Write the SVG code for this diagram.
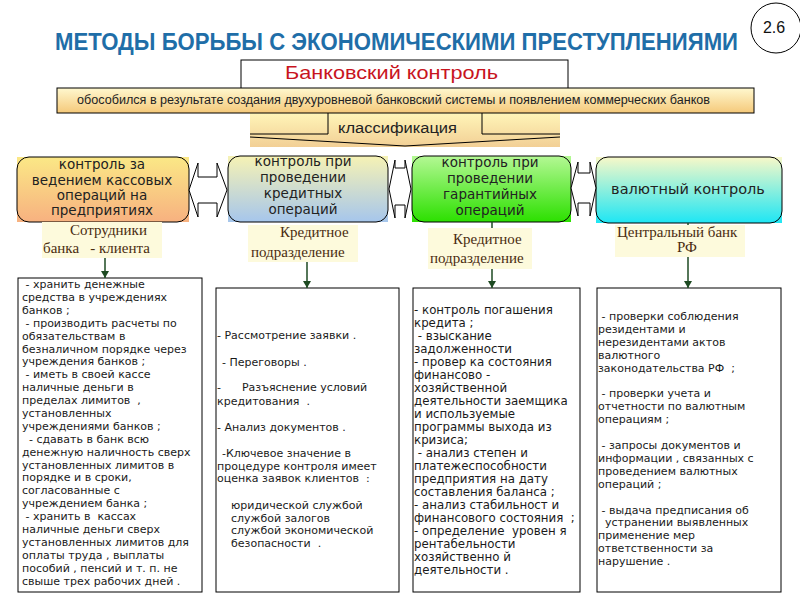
<svg xmlns="http://www.w3.org/2000/svg" width="800" height="600" viewBox="0 0 800 600">
<defs>
<linearGradient id="gBand" x1="0" y1="0" x2="0" y2="1"><stop offset="0" stop-color="#fff8cf"/><stop offset="1" stop-color="#f5c97a"/></linearGradient>
<linearGradient id="gCls" x1="0" y1="0" x2="0" y2="1"><stop offset="0" stop-color="#fff5b8"/><stop offset="1" stop-color="#f2cf95"/></linearGradient>
<linearGradient id="g1" x1="0" y1="0" x2="0" y2="1"><stop offset="0" stop-color="#fbe886"/><stop offset="1" stop-color="#f7b180"/></linearGradient>
<linearGradient id="g2" x1="0" y1="0" x2="0" y2="1"><stop offset="0" stop-color="#f6f2b4"/><stop offset="1" stop-color="#a6c6ec"/></linearGradient>
<linearGradient id="g3" x1="0" y1="0" x2="0" y2="1"><stop offset="0" stop-color="#b4f894"/><stop offset="1" stop-color="#2ce000"/></linearGradient>
<linearGradient id="g4" x1="0" y1="0" x2="0" y2="1"><stop offset="0" stop-color="#f8f8c8"/><stop offset="1" stop-color="#1ee6f4"/></linearGradient>
<marker id="ah" markerWidth="7" markerHeight="8" refX="7" refY="4" orient="auto" markerUnits="userSpaceOnUse"><path d="M0,0 L7,4 L0,8 z" fill="#1e4a22"/></marker>
<style>
.title{font-family:"Liberation Sans",Arial,sans-serif;font-weight:bold;font-size:23px;fill:#1f6ea8}
.cat{font-family:"DejaVu Sans",Verdana,sans-serif;font-size:13.5px;fill:#222;text-anchor:middle}
.lbl{font-family:"Liberation Serif","Times New Roman",serif;font-size:15px;fill:#4a2c10}
.body{font-family:"DejaVu Sans",Verdana,sans-serif;font-size:11px;fill:#1a1a1a;white-space:pre}
.ln{fill:none;stroke:#000;stroke-width:1}
.box{fill:#fff;stroke:#000;stroke-width:1}
.dbl{fill:#fff;stroke:#000;stroke-width:1}
.lbg{fill:#fdfadc}
.conn{stroke:#1e4a22;stroke-width:1.5;fill:none}
</style>
</defs>
<rect width="800" height="600" fill="#fff"/>

<g id="title">
<text class="title" x="55" y="50" textLength="683" lengthAdjust="spacingAndGlyphs">МЕТОДЫ БОРЬБЫ С ЭКОНОМИЧЕСКИМИ ПРЕСТУПЛЕНИЯМИ</text>
</g>
<g id="badge">
<circle cx="776" cy="28" r="25" fill="#fff" stroke="#000" stroke-width="1"/>
<text x="774" y="33" font-family="Liberation Sans, Arial, sans-serif" font-size="16" text-anchor="middle" fill="#111">2.6</text>
</g>

<g id="bank-control">
<rect x="241" y="60" width="327" height="30" class="box"/>
<text x="285" y="79" font-family="Liberation Sans, Arial, sans-serif" font-size="19" fill="#c8141e" textLength="213" lengthAdjust="spacingAndGlyphs">Банковский контроль</text>
</g>

<g id="classification">
<rect x="250" y="113" width="310" height="34" fill="url(#gCls)"/>
<polyline class="ln" points="250,134 328,134 328,113"/>
<polyline class="ln" points="482,113 482,134 560,134"/>
<polyline class="ln" points="250,137 405,146 560,137"/>
<text x="338" y="133" font-family="Liberation Sans, Arial, sans-serif" font-size="15.5" fill="#222" textLength="119" lengthAdjust="spacingAndGlyphs">классификация</text>
</g>

<g id="origin">
<rect x="57" y="88" width="697" height="25" fill="url(#gBand)" stroke="#000" stroke-width="1"/>
<text x="77" y="104" font-family="Liberation Sans, Arial, sans-serif" font-size="12.5" fill="#222" textLength="633" lengthAdjust="spacingAndGlyphs">обособился в результате создания двухуровневой банковский системы и появлением коммерческих банков</text>
</g>

<g id="cat1">
<rect x="17" y="157" width="172" height="65" fill="url(#g1)"/>
<rect x="17" y="157" width="172" height="65" rx="12" fill="none" stroke="#000" stroke-width="1"/>
<text class="cat"><tspan x="102" y="169">контроль за</tspan><tspan x="102" y="185">ведением кассовых</tspan><tspan x="102" y="200">операций на</tspan><tspan x="102" y="215">предприятиях</tspan></text>
</g>
<g id="cat2">
<rect x="228" y="156" width="160" height="66" fill="url(#g2)"/>
<rect x="228" y="156" width="160" height="66" rx="12" fill="none" stroke="#000" stroke-width="1"/>
<text class="cat"><tspan x="303" y="166">контроль при</tspan><tspan x="303" y="182">проведении</tspan><tspan x="303" y="198">кредитных</tspan><tspan x="303" y="214">операций</tspan></text>
</g>
<g id="cat3">
<rect x="412" y="156" width="159" height="66" fill="url(#g3)"/>
<rect x="412" y="156" width="159" height="66" rx="12" fill="none" stroke="#000" stroke-width="1"/>
<text class="cat"><tspan x="490" y="167">контроль при</tspan><tspan x="490" y="183">проведении</tspan><tspan x="490" y="199">гарантийных</tspan><tspan x="490" y="215">операций</tspan></text>
</g>
<g id="cat4">
<rect x="596" y="157" width="186" height="66" fill="url(#g4)"/>
<rect x="596" y="157" width="186" height="66" rx="12" fill="none" stroke="#000" stroke-width="1"/>
<text class="cat" x="688" y="194" style="font-size:14.5px">валютный контроль</text>
</g>

<g id="label1">
<rect x="42" y="222" width="120" height="36" class="lbg"/>
<text class="lbl" style="white-space:pre"><tspan x="70" y="235">Сотрудники</tspan><tspan x="43" y="253">банка   - клиента</tspan></text>
</g>
<g id="label2">
<rect x="248" y="225" width="110" height="37" class="lbg"/>
<text class="lbl"><tspan x="280" y="237">Кредитное</tspan><tspan x="251" y="257">подразделение</tspan></text>
</g>
<g id="label3">
<rect x="428" y="228" width="104" height="41" class="lbg"/>
<text class="lbl"><tspan x="453" y="244">Кредитное</tspan><tspan x="430" y="263">подразделение</tspan></text>
</g>
<g id="label4">
<rect x="615" y="225" width="130" height="32" class="lbg"/>
<text class="lbl"><tspan x="617" y="237">Центральный банк</tspan><tspan x="677" y="252">РФ</tspan></text>
</g>

<g id="list1">
<rect x="18" y="278" width="184" height="314" class="box"/>
<text class="body"><tspan x="22" y="288"> - хранить денежные</tspan><tspan x="22" dy="12.9">средства в учреждениях</tspan><tspan x="22" dy="12.9">банков ;</tspan><tspan x="22" dy="12.9"> - производить расчеты по</tspan><tspan x="22" dy="12.9">обязательствам в</tspan><tspan x="22" dy="12.9">безналичном порядке через</tspan><tspan x="22" dy="12.9">учреждения банков ;</tspan><tspan x="22" dy="12.9"> - иметь в своей кассе</tspan><tspan x="22" dy="12.9">наличные деньги в</tspan><tspan x="22" dy="12.9">пределах лимитов  ,</tspan><tspan x="22" dy="12.9">установленных</tspan><tspan x="22" dy="12.9">учреждениями банков ;</tspan><tspan x="22" dy="12.9">  - сдавать в банк всю</tspan><tspan x="22" dy="12.9">денежную наличность сверх</tspan><tspan x="22" dy="12.9">установленных лимитов в</tspan><tspan x="22" dy="12.9">порядке и в сроки,</tspan><tspan x="22" dy="12.9">согласованные с</tspan><tspan x="22" dy="12.9">учреждением банка ;</tspan><tspan x="22" dy="12.9"> - хранить в  кассах</tspan><tspan x="22" dy="12.9">наличные деньги сверх</tspan><tspan x="22" dy="12.9">установленных лимитов для</tspan><tspan x="22" dy="12.9">оплаты труда , выплаты</tspan><tspan x="22" dy="12.9">пособий , пенсий и т. п. не</tspan><tspan x="22" dy="12.9">свыше трех рабочих дней .</tspan></text>
</g>

<g id="list2">
<rect x="216" y="288" width="183" height="304" class="box"/>
<text class="body"><tspan x="217" y="339">- Рассмотрение заявки .</tspan><tspan x="222" y="366">- Переговоры .</tspan><tspan x="217" y="391">-      Разъяснение условий</tspan><tspan x="217" y="405">кредитования  .</tspan><tspan x="217" y="431">- Анализ документов .</tspan><tspan x="222" y="457">-Ключевое значение в</tspan><tspan x="217" y="470">процедуре контроля имеет</tspan><tspan x="217" y="482">оценка заявок клиентов  :</tspan><tspan x="231" y="509">юридической службой</tspan><tspan x="231" y="522">службой залогов</tspan><tspan x="231" y="534">службой экономической</tspan><tspan x="231" y="547">безопасности  .</tspan></text>
</g>

<g id="list3">
<rect x="413" y="288" width="167" height="304" class="box"/>
<text class="body" style="font-size:11.8px"><tspan x="414" y="314">- контроль погашения</tspan><tspan x="414" dy="13">кредита ;</tspan><tspan x="414" dy="13"> - взыскание</tspan><tspan x="414" dy="13">задолженности</tspan><tspan x="414" dy="13">- провер ка состояния</tspan><tspan x="414" dy="13">финансово -</tspan><tspan x="414" dy="13">хозяйственной</tspan><tspan x="414" dy="13">деятельности заемщика</tspan><tspan x="414" dy="13">и используемые</tspan><tspan x="414" dy="13">программы выхода из</tspan><tspan x="414" dy="13">кризиса;</tspan><tspan x="414" dy="13"> - анализ степен и</tspan><tspan x="414" dy="13">платежеспособности</tspan><tspan x="414" dy="13">предприятия на дату</tspan><tspan x="414" dy="13">составления баланса ;</tspan><tspan x="414" dy="13">- анализ стабильност и</tspan><tspan x="414" dy="13">финансового состояния  ;</tspan><tspan x="414" dy="13">- определение  уровен я</tspan><tspan x="414" dy="13">рентабельности</tspan><tspan x="414" dy="13">хозяйственно й</tspan><tspan x="414" dy="13">деятельности .</tspan></text>
</g>

<g id="list4">
<rect x="597" y="288" width="184" height="304" class="box"/>
<text class="body"><tspan x="598" y="320"> - проверки соблюдения</tspan><tspan x="598" dy="12.9">резидентами и</tspan><tspan x="598" dy="12.9">нерезидентами актов</tspan><tspan x="598" dy="12.9">валютного</tspan><tspan x="598" dy="12.9">законодательства РФ  ;</tspan><tspan x="598" dy="25.8"> - проверки учета и</tspan><tspan x="598" dy="12.9">отчетности по валютным</tspan><tspan x="598" dy="12.9">операциям ;</tspan><tspan x="598" dy="25.8"> - запросы документов и</tspan><tspan x="598" dy="12.9">информации , связанных с</tspan><tspan x="598" dy="12.9">проведением валютных</tspan><tspan x="598" dy="12.9">операций ;</tspan><tspan x="598" dy="25.8"> - выдача предписания об</tspan><tspan x="598" dy="12.9">  устранении выявленных</tspan><tspan x="598" dy="12.9">применение мер</tspan><tspan x="598" dy="12.9">ответственности за</tspan><tspan x="598" dy="12.9">нарушение .</tspan></text>
</g>

<g id="connectors">
<polygon class="dbl" points="189,190 198,163 198,177 217,177 217,163 227,190 217,217 217,203 198,203 198,217"/>
<polygon class="dbl" points="389,189 395,160 395,168 405,168 405,160 411,189 405,218 405,205 395,205 395,218"/>
<polygon class="dbl" points="571,188 578,162 578,173 590,173 590,162 596,188 590,216 590,203 578,203 578,216"/>
<line class="conn" x1="492" y1="222" x2="492" y2="228"/>
<line class="conn" x1="688" y1="223" x2="688" y2="225"/>
<line class="conn" x1="105" y1="258" x2="105" y2="278" marker-end="url(#ah)"/>
<line class="conn" x1="307" y1="262" x2="307" y2="288" marker-end="url(#ah)"/>
<line class="conn" x1="492" y1="269" x2="492" y2="288" marker-end="url(#ah)"/>
<line class="conn" x1="688" y1="257" x2="688" y2="288" marker-end="url(#ah)"/>
</g>
</svg>
